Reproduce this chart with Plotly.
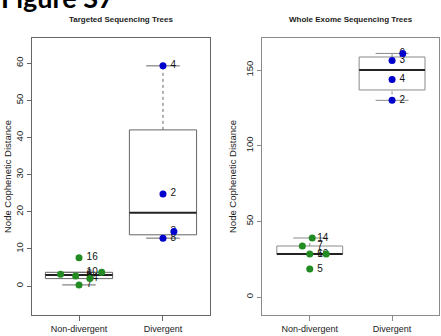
import numpy as np
import plotly.graph_objects as go

# ---------------- data ----------------
groups = ["Non-divergent", "Divergent"]

ts_nondiv_values = [7.6, 3.7, 3.2, 2.7, 2.0, 0.3]
ts_nondiv_labels = ["16", "10", "6", "8", "14", "7"]
ts_nondiv_jitter = [0.0, 0.27, -0.22, -0.04, 0.13, 0.0]

ts_div_values = [59.3, 24.8, 14.7, 12.9]
ts_div_labels = ["4", "2", "3", "8"]
ts_div_jitter = [0.0, 0.0, 0.13, 0.0]

wes_nondiv_values = [39.0, 33.7, 28.4, 28.4, 18.5]
wes_nondiv_labels = ["14", "7", "10", "6", "5"]
wes_nondiv_jitter = [0.03, -0.09, 0.0, 0.2, 0.0]

wes_div_values = [161.0, 156.3, 143.7, 130.0]
wes_div_labels = ["6", "3", "4", "2"]
wes_div_jitter = [0.13, 0.0, 0.0, 0.0]

panel_titles = ["Targeted Sequencing Trees", "Whole Exome Sequencing Trees"]
y_title = "Node Cophenetic Distance"
ts_yticks = [0, 10, 20, 30, 40, 50, 60]
wes_yticks = [0, 50, 100, 150]

GREEN = "#228B22"
BLUE = "#0000CD"
FONT = "Liberation Sans"


def fivenum(x):
    x = sorted(x)
    n = len(x)
    n4 = np.floor((n + 3) / 2) / 2
    d = [1, n4, (n + 1) / 2, n + 1 - n4, n]
    return [0.5 * (x[int(np.floor(di)) - 1] + x[int(np.ceil(di)) - 1]) for di in d]


def box_stats(x):
    s = fivenum(x)
    iqr = s[3] - s[1]
    lo = min(v for v in x if v >= s[1] - 1.5 * iqr)
    hi = max(v for v in x if v <= s[3] + 1.5 * iqr)
    return lo, s[1], s[2], s[3], hi


fig = go.Figure()


def add_group(pos, values, labels, jitter, color, xa, ya, frame_color):
    lo, q1, med, q3, hi = box_stats(values)
    hw = 0.4
    sw = hw / 2
    # box
    fig.add_trace(go.Scatter(x=[pos - hw, pos + hw, pos + hw, pos - hw, pos - hw],
                             y=[q1, q1, q3, q3, q1], mode="lines",
                             line=dict(color=frame_color, width=1),
                             xaxis=xa, yaxis=ya, hoverinfo="skip"))
    # whiskers
    fig.add_trace(go.Scatter(x=[pos, pos, None, pos, pos],
                             y=[lo, q1, None, q3, hi], mode="lines",
                             line=dict(color=frame_color, width=1, dash="dot"),
                             xaxis=xa, yaxis=ya, hoverinfo="skip"))
    # staples
    fig.add_trace(go.Scatter(x=[pos - sw, pos + sw, None, pos - sw, pos + sw],
                             y=[lo, lo, None, hi, hi], mode="lines",
                             line=dict(color=frame_color, width=1),
                             xaxis=xa, yaxis=ya, hoverinfo="skip"))
    # median
    fig.add_trace(go.Scatter(x=[pos - hw, pos + hw], y=[med, med], mode="lines",
                             line=dict(color="#222222", width=2),
                             xaxis=xa, yaxis=ya, hoverinfo="skip"))
    # labels
    fig.add_trace(go.Scatter(x=[pos + 0.09] * len(values), y=values, mode="text",
                             text=labels, textposition="middle right",
                             textfont=dict(family=FONT, size=10, color="#111111"),
                             xaxis=xa, yaxis=ya, hoverinfo="skip"))
    # points
    fig.add_trace(go.Scatter(x=[pos + j for j in jitter], y=values, mode="markers",
                             marker=dict(color=color, size=7),
                             xaxis=xa, yaxis=ya, hoverinfo="skip"))


LEFT_FRAME = "#666666"
RIGHT_FRAME = "#8a8a8a"

add_group(1, ts_nondiv_values, ts_nondiv_labels, ts_nondiv_jitter, GREEN, "x", "y", LEFT_FRAME)
add_group(2, ts_div_values, ts_div_labels, ts_div_jitter, BLUE, "x", "y", LEFT_FRAME)
add_group(1, wes_nondiv_values, wes_nondiv_labels, wes_nondiv_jitter, GREEN, "x2", "y2", RIGHT_FRAME)
add_group(2, wes_div_values, wes_div_labels, wes_div_jitter, BLUE, "x2", "y2", RIGHT_FRAME)

W, H = 441, 336
ML, MR, MT, MB = 32, 2, 38, 21
pw = W - ML - MR
ph = H - MT - MB


def px_x(p):
    return (p - ML) / pw


def px_y(p):
    return (H - MB - p) / ph


def xaxis_style(dom, rng, color):
    return dict(domain=dom, range=rng, tickvals=[1, 2], ticktext=groups,
                showline=True, mirror=True, linecolor=color, linewidth=1,
                ticks="outside", ticklen=5, tickcolor=color,
                tickfont=dict(family=FONT, size=9, color="#222222"),
                showgrid=False, zeroline=False)


def yaxis_style(rng, ticks, color, anchor):
    return dict(range=rng, tickvals=ticks, tickangle=-90, anchor=anchor,
                showline=True, mirror=True, linecolor=color, linewidth=1,
                ticks="outside", ticklen=4, tickcolor=color,
                tickfont=dict(family=FONT, size=9.5, color="#222222"),
                showgrid=False, zeroline=False)


fig.update_layout(
    width=W, height=H,
    margin=dict(l=ML, r=MR, t=MT, b=MB),
    paper_bgcolor="white", plot_bgcolor="white",
    showlegend=False,
    xaxis=xaxis_style([0, px_x(210)], [0.44, 2.56], LEFT_FRAME),
    yaxis=yaxis_style([-7.8, 66.8], ts_yticks, LEFT_FRAME, "x"),
    xaxis2=xaxis_style([px_x(262), 1.0], [0.42, 2.57], RIGHT_FRAME),
    yaxis2=yaxis_style([-11.9, 171.2], wes_yticks, RIGHT_FRAME, "x2"),
)

annotations = [
    dict(text="<b>Figure S7</b>", xref="paper", yref="paper", x=px_x(-1), y=px_y(16),
         xanchor="left", yanchor="bottom", showarrow=False,
         font=dict(family="Lato", size=27, color="black")),
    dict(text="<b>" + panel_titles[0] + "</b>", xref="paper", yref="paper",
         x=px_x(121), y=px_y(20), xanchor="center", yanchor="middle", showarrow=False,
         font=dict(family=FONT, size=8, color="#222222")),
    dict(text="<b>" + panel_titles[1] + "</b>", xref="paper", yref="paper",
         x=px_x(350.5), y=px_y(20), xanchor="center", yanchor="middle", showarrow=False,
         font=dict(family=FONT, size=8, color="#222222")),
    dict(text=y_title, xref="paper", yref="paper", x=px_x(7), y=px_y(177),
         xanchor="center", yanchor="middle", textangle=-90, showarrow=False,
         font=dict(family=FONT, size=9.5, color="#222222")),
    dict(text=y_title, xref="paper", yref="paper", x=px_x(232), y=px_y(177),
         xanchor="center", yanchor="middle", textangle=-90, showarrow=False,
         font=dict(family=FONT, size=9.5, color="#222222")),
]
fig.update_layout(annotations=annotations)

fig.write_html("out.html")
